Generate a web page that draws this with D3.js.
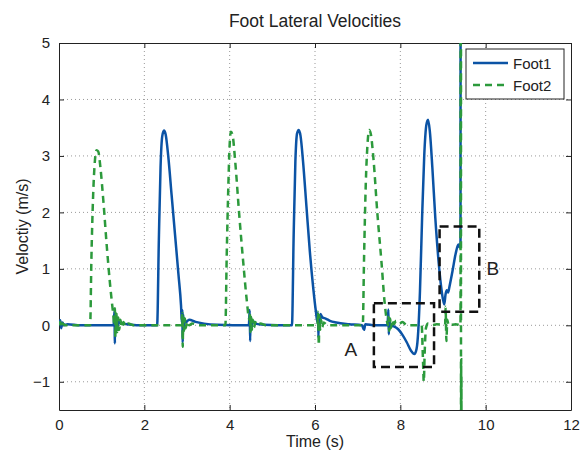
<!DOCTYPE html>
<html>
<head>
  <meta charset="utf-8">
  <title>Foot Lateral Velocities</title>
  <style>
    body { margin: 0; background: #fff; }
    text { font-family: "Liberation Sans", Arial, sans-serif; fill: #222; }
  </style>
</head>
<body>

  <script src="https://d3js.org/d3.v7.min.js" charset="utf-8"></script>
  <script type="text/javascript">

  // time (s), velocity (m/s)
  var foot1 = [
    [0,0.02],[0.03,0.09],[0.05,-0.05],[0.08,0.05],[0.12,0.0],[0.2,0.02],[0.5,0.0],[1.0,0.0],[1.28,0.0],
    [1.30,0.25],[1.31,-0.32],[1.32,0.22],[1.33,-0.12],[1.35,0.1],[1.37,-0.04],[1.4,0.06],[1.45,0.03],[1.6,0.02],[1.9,0.0],[2.3,0.0],
    [2.34,1.5],[2.38,2.8],[2.42,3.35],[2.46,3.45],[2.5,3.38],[2.56,3.0],[2.64,2.3],[2.72,1.6],[2.8,0.9],[2.86,0.35],[2.88,0.05],
    [2.89,0.27],[2.90,-0.3],[2.91,0.2],[2.92,-0.1],[2.94,0.12],[2.97,0.05],[3.05,0.1],[3.2,0.06],[3.4,0.03],[3.7,0.01],[4.45,0.0],
    [4.47,0.27],[4.48,-0.28],[4.49,0.15],[4.51,-0.05],[4.54,0.08],[4.6,0.03],[4.8,0.01],[5.46,0.0],
    [5.5,1.6],[5.54,2.9],[5.58,3.4],[5.62,3.46],[5.66,3.36],[5.72,2.9],[5.8,2.1],[5.88,1.3],[5.96,0.65],[6.02,0.25],[6.06,0.05],
    [6.07,0.22],[6.08,-0.22],[6.09,0.16],[6.11,-0.06],[6.13,0.2],[6.17,0.14],[6.25,0.12],[6.35,0.08],[6.5,0.05],[6.8,0.02],
    [7.1,0.0],[7.15,-0.08],[7.18,0.02],[7.4,0.0],[7.7,0.0],
    [7.72,0.28],[7.73,-0.16],[7.74,0.12],[7.76,0.0],[7.85,-0.02],[7.95,-0.07],[8.05,-0.17],[8.15,-0.3],[8.25,-0.45],[8.33,-0.51],
    [8.38,-0.42],[8.42,-0.1],[8.46,0.6],[8.51,1.9],[8.56,3.0],[8.61,3.55],[8.65,3.64],[8.69,3.45],[8.75,2.8],[8.82,1.9],[8.9,1.1],
    [8.97,0.6],[9.03,0.37],[9.06,0.55],[9.09,0.62],[9.12,0.58],[9.15,0.68],[9.22,0.95],[9.3,1.28],[9.36,1.43],[9.39,1.38],[9.41,1.45],
    [9.42,25]
  ];

  var foot2 = [
    [0,0.0],[0.03,0.06],[0.05,-0.04],[0.08,0.03],[0.15,0.0],[0.73,0.0],
    [0.76,1.2],[0.8,2.3],[0.84,2.9],[0.88,3.1],[0.92,3.08],[0.97,2.8],[1.04,2.2],[1.12,1.4],[1.2,0.7],[1.27,0.2],[1.30,0.0],
    [1.31,0.3],[1.32,-0.22],[1.33,0.25],[1.34,-0.16],[1.35,0.2],[1.37,-0.12],[1.39,0.14],[1.41,-0.08],[1.44,0.1],[1.47,-0.04],
    [1.51,0.06],[1.56,-0.02],[1.62,0.03],[1.75,0.0],[2.87,0.0],
    [2.89,0.22],[2.9,-0.38],[2.91,0.18],[2.93,-0.1],[2.95,0.12],[2.97,-0.05],[3.0,0.07],[3.05,0.0],[3.12,0.03],[3.3,0.0],[3.9,0.0],
    [3.93,1.2],[3.97,2.5],[4.0,3.2],[4.03,3.43],[4.07,3.36],[4.13,2.9],[4.22,2.0],[4.32,1.1],[4.4,0.45],[4.46,0.1],
    [4.48,0.2],[4.49,-0.12],[4.5,0.15],[4.52,-0.08],[4.54,0.1],[4.57,-0.04],[4.6,0.06],[4.65,0.0],[4.72,0.03],[4.85,0.0],[6.06,0.0],
    [6.07,0.24],[6.09,-0.35],[6.1,0.18],[6.12,-0.08],[6.14,0.1],[6.17,-0.03],[6.2,0.05],[6.3,0.0],[7.12,0.0],
    [7.15,1.2],[7.19,2.5],[7.23,3.2],[7.27,3.46],[7.31,3.38],[7.37,2.95],[7.46,2.0],[7.56,1.1],[7.63,0.42],[7.68,0.1],[7.71,0.0],
    [7.72,0.15],[7.74,-0.1],[7.76,0.12],[7.78,-0.05],[7.81,0.1],[7.85,0.02],[7.9,0.08],[7.98,0.03],[8.05,0.06],[8.15,0.0],[8.5,0.0],
    [8.53,-0.6],[8.55,-1.0],[8.57,-0.5],[8.6,-0.05],[8.65,0.03],[8.75,0.0],[8.85,0.02],[9.05,0.0],
    [9.06,0.33],[9.08,-0.28],[9.1,0.1],[9.13,0.0],[9.3,0.02],[9.41,0.0],
    [9.42,25],[9.423,-25],[9.426,-0.6],[9.429,-25],[9.432,-0.9],[9.435,-25]
  ];

  var xTicks = [0, 2, 4, 6, 8, 10, 12],
      yTicks = [-1, 0, 1, 2, 3, 4, 5],
      seriesNames = ['Foot1', 'Foot2'],
      // zoom boxes: time span, velocity span, label position [t, v]
      boxes = [
        { name: 'A', t: [7.38, 8.79], v: [-0.74, 0.39], at: [6.84, -0.42] },
        { name: 'B', t: [8.92, 9.85], v: [0.24, 1.75],  at: [10.17, 1.0] }
      ];

  var W = 580, H = 455,
      m = { left: 59, right: 9, top: 43, bottom: 45 },
      blue = '#0b53a5', green = '#2c9a3c';

  var svg = d3.select('body').append('svg')
      .attr('width', W).attr('height', H);

  var x = d3.scaleLinear().domain([0, 12]).range([m.left, W - m.right]),
      y = d3.scaleLinear().domain([-1.5, 5]).range([H - m.bottom, m.top]);

  svg.append('defs').append('clipPath').attr('id', 'plot')
    .append('rect')
      .attr('x', x(0)).attr('y', y(5))
      .attr('width', x(12) - x(0)).attr('height', y(-1.5) - y(5));

  // grid
  var grid = svg.append('g');
  grid.selectAll('.gx').data(xTicks.slice(1, -1)).enter().append('line')
    .attr('x1', x).attr('x2', x).attr('y1', y(5)).attr('y2', y(-1.5))
    .attr('stroke', '#999').attr('stroke-dasharray', '1,3');
  grid.selectAll('.gy').data(yTicks.slice(0, -1)).enter().append('line')
    .attr('y1', y).attr('y2', y).attr('x1', x(0)).attr('x2', x(12))
    .attr('stroke', '#999').attr('stroke-dasharray', '1,3');

  // axes, ticks inside like matlab
  function fmt(d) { return d < 0 ? '\u2212' + Math.abs(d) : String(d); }

  svg.append('g').attr('transform', 'translate(0,' + y(-1.5) + ')')
    .call(d3.axisBottom(x).tickValues(xTicks).tickFormat(fmt).tickSizeInner(-5).tickSizeOuter(0).tickPadding(9));
  svg.append('g').attr('transform', 'translate(0,' + y(5) + ')')
    .call(d3.axisTop(x).tickValues(xTicks).tickFormat('').tickSizeInner(-5).tickSizeOuter(0));
  svg.append('g').attr('transform', 'translate(' + x(0) + ',0)')
    .call(d3.axisLeft(y).tickValues(yTicks).tickFormat(fmt).tickSizeInner(-5).tickSizeOuter(0).tickPadding(9));
  svg.append('g').attr('transform', 'translate(' + x(12) + ',0)')
    .call(d3.axisRight(y).tickValues(yTicks).tickFormat('').tickSizeInner(-5).tickSizeOuter(0));

  svg.selectAll('.tick text').style('font-size', '15px').style('font-family', '"Liberation Sans", Arial, sans-serif').attr('fill', '#222');
  svg.selectAll('.domain, .tick line').attr('stroke', '#222');

  // lines
  var line = d3.line()
      .x(function(d) { return x(d[0]); })
      .y(function(d) { return y(d[1]); })
      .curve(d3.curveMonotoneX);

  var plot = svg.append('g').attr('clip-path', 'url(#plot)');

  plot.append('path').datum(foot1)
    .attr('d', line).attr('fill', 'none')
    .attr('stroke', blue).attr('stroke-width', 2.5).attr('stroke-linejoin', 'round');

  plot.append('path').datum(foot2)
    .attr('d', line).attr('fill', 'none')
    .attr('stroke', green).attr('stroke-width', 2.5).attr('stroke-dasharray', '7,5');

  // zoom boxes
  boxes.forEach(function(b) {
    svg.append('rect')
      .attr('x', x(b.t[0])).attr('y', y(b.v[1]))
      .attr('width', x(b.t[1]) - x(b.t[0])).attr('height', y(b.v[0]) - y(b.v[1]))
      .attr('fill', 'none').attr('stroke', '#111')
      .attr('stroke-width', 2.5).attr('stroke-dasharray', '9,5');
    svg.append('text')
      .attr('x', x(b.at[0])).attr('y', y(b.at[1]))
      .attr('text-anchor', 'middle').attr('dominant-baseline', 'central')
      .style('font-size', '19px').text(b.name);
  });

  // legend
  var lg = svg.append('g').attr('transform', 'translate(466,49)');
  lg.append('rect').attr('width', 98).attr('height', 50)
    .attr('fill', '#fff').attr('stroke', '#222');
  seriesNames.forEach(function(name, i) {
    var yy = 14 + i * 22;
    lg.append('line')
      .attr('x1', 7).attr('x2', 42).attr('y1', yy).attr('y2', yy)
      .attr('stroke', i ? green : blue).attr('stroke-width', 2.5)
      .attr('stroke-dasharray', i ? '7,5' : null);
    lg.append('text').attr('x', 47).attr('y', yy)
      .attr('dominant-baseline', 'central')
      .style('font-size', '15px').text(name);
  });

  // titles
  svg.append('text').attr('x', (x(0) + x(12)) / 2).attr('y', 21)
    .attr('text-anchor', 'middle').attr('dominant-baseline', 'central')
    .style('font-size', '17.5px').text('Foot Lateral Velocities');
  svg.append('text').attr('x', (x(0) + x(12)) / 2).attr('y', 441)
    .attr('text-anchor', 'middle').attr('dominant-baseline', 'central')
    .style('font-size', '16px').text('Time (s)');
  svg.append('text')
    .attr('transform', 'translate(22,' + (y(5) + y(-1.5)) / 2 + ') rotate(-90)')
    .attr('text-anchor', 'middle').attr('dominant-baseline', 'central')
    .style('font-size', '16px').text('Veloctiy (m/s)');

  </script>
</body>
</html>
